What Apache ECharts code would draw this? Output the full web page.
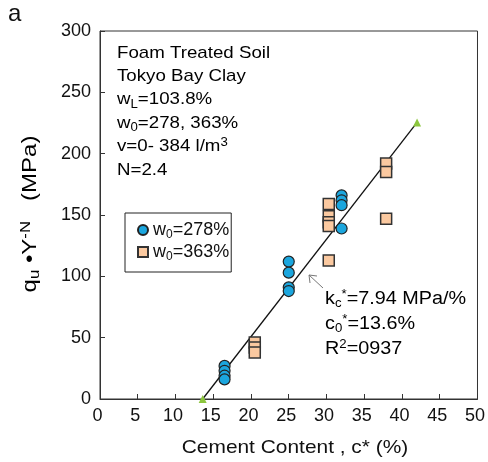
<!DOCTYPE html>
<html>
<head>
<meta charset="utf-8">
<script src="https://cdn.jsdelivr.net/npm/echarts@6/dist/echarts.min.js"></script>
<style>
  html, body { margin: 0; padding: 0; background: #fff; }
  #chart { width: 488px; height: 462px; }
</style>
</head>
<body>
<div id="chart"></div>
<script>
// Cement content c* (%) and normalised strength qu·Y^-N (MPa)
var w278Cement = [16.5, 16.5, 16.5, 16.5, 25, 25, 25, 25, 32, 32, 32, 32];
var w278Strength = [27, 23, 19, 16, 112, 103, 91, 88, 166, 162, 158, 139];

var w363Cement = [20.5, 20.5, 20.5, 30.3, 30.3, 30.3, 30.3, 30.3, 37.9, 37.9, 37.9];
var w363Strength = [46, 42, 38, 159, 149, 144, 141, 113, 192, 185, 147];

// Regression line endpoints: q = kc* (c* - c0*)
var fitCement = [13.6, 42];
var fitStrength = [0, 225.5];

var xTicks = [0, 5, 10, 15, 20, 25, 30, 35, 40, 45, 50];
var yTicks = [0, 50, 100, 150, 200, 250, 300];

function pairs(xs, ys) {
  return xs.map(function (x, i) { return [x, ys[i]]; });
}

var FONT = 'Liberation Sans, Arial, sans-serif';
var INK = '#111';
var chart = echarts.init(document.getElementById('chart'), null, { renderer: 'canvas' });

function richSet(size) {
  var small = Math.round(size * 0.68);
  return {
    a: { fontSize: size, fontFamily: FONT, color: INK },
    sub: { fontSize: small, fontFamily: FONT, color: INK, padding: [Math.round(size * 0.55), 0, 0, 0] },
    sup: { fontSize: small, fontFamily: FONT, color: INK, padding: [0, 0, Math.round(size * 0.42), 0] }
  };
}

// Info block lines (top-left of the plot)
var infoLines = [
  '{a|Foam Treated Soil}',
  '{a|Tokyo Bay Clay}',
  '{a|w}{sub|L}{a|=103.8%}',
  '{a|w}{sub|0}{a|=278, 363%}',
  '{a|v=0- 384 l/m}{sup|3}',
  '{a|N=2.4}'
];
// Regression statistics
var fitLines = [
  '{a|k}{sub|c}{sup|*}{a|=7.94 MPa/%}',
  '{a|c}{sub|0}{sup|*}{a|=13.6%}',
  '{a|R}{sup|2}{a|=0937}'
];

var graphics = [
  { type: 'text', left: 8, top: 2, style: { text: 'a', fontSize: 24, fontFamily: FONT, fill: INK } }
];
infoLines.forEach(function (t, i) {
  graphics.push({
    type: 'text', x: 117, y: 53 + i * 23.4, scaleX: 1.1,
    style: { text: t, rich: richSet(17), verticalAlign: 'middle', align: 'left' }
  });
});
fitLines.forEach(function (t, i) {
  graphics.push({
    type: 'text', x: 325, y: 299 + i * 25, scaleX: 1.1,
    style: { text: t, rich: richSet(18), verticalAlign: 'middle', align: 'left' }
  });
});
graphics.push(
  { type: 'line', shape: { x1: 323, y1: 288, x2: 309, y2: 275 }, style: { stroke: '#777', lineWidth: 1 } },
  { type: 'polyline', shape: { points: [[310, 283], [309, 275], [317, 276]] }, style: { stroke: '#777', lineWidth: 1, fill: null } },
  { type: 'text', x: 295, y: 448, scaleX: 1.1, style: {
    text: 'Cement Content , c* (%)', fontSize: 19, fontFamily: FONT, fill: INK, align: 'center', verticalAlign: 'middle'
  } },
  { type: 'text', x: 30, y: 214, rotation: Math.PI / 2, scaleX: 1.2, style: {
    text: '{a|q}{sub|u}{a| •Y}{sup|-N}{a|   (MPa)}', align: 'center', verticalAlign: 'middle',
    rich: richSet(20)
  } }
);

var option = {
  animation: false,
  backgroundColor: '#fff',
  grid: {
    left: 100, top: 31, right: 8, bottom: 63,
    show: true, borderColor: '#333', borderWidth: 1, backgroundColor: 'transparent'
  },
  xAxis: {
    type: 'value', min: xTicks[0], max: xTicks[xTicks.length - 1], interval: 5,
    axisLine: { show: true, lineStyle: { color: '#333', width: 1 } },
    axisTick: { show: true, inside: true, length: 5, lineStyle: { color: '#333' } },
    axisLabel: { color: INK, fontSize: 18, fontFamily: FONT, margin: 8, padding: [0, 5, 0, 0] },
    splitLine: { show: false }
  },
  yAxis: {
    type: 'value', min: yTicks[0], max: yTicks[yTicks.length - 1], interval: 50,
    axisLine: { show: true, lineStyle: { color: '#333', width: 1 } },
    axisTick: { show: true, inside: true, length: 5, lineStyle: { color: '#333' } },
    axisLabel: { color: INK, fontSize: 18, fontFamily: FONT, margin: 9, padding: [4, 0, 0, 0] },
    splitLine: { show: false }
  },
  legend: {
    left: 125, top: 213, orient: 'vertical',
    backgroundColor: '#fff', borderColor: '#222', borderWidth: 1,
    padding: [8, 2, 9, 12], itemGap: 2, itemWidth: 10, itemHeight: 10,
    data: [
      { name: 'w278', icon: 'circle' },
      { name: 'w363', icon: 'rect' }
    ],
    formatter: function (name) {
      return name === 'w278' ? '{a|w}{sub|0}{a|=278%}' : '{a|w}{sub|0}{a|=363%}';
    },
    textStyle: {
      fontSize: 18, fontFamily: FONT, color: INK,
      rich: richSet(18)
    }
  },
  series: [
    {
      name: 'fit', type: 'line', data: pairs(fitCement, fitStrength),
      symbol: 'triangle', symbolSize: 8, showSymbol: true,
      itemStyle: { color: '#8cc63e', borderWidth: 0 },
      lineStyle: { color: INK, width: 1.3 },
      clip: false, z: 2, silent: true
    },
    {
      name: 'w278', type: 'scatter', data: pairs(w278Cement, w278Strength),
      symbol: 'circle', symbolSize: 11,
      itemStyle: { color: '#1ba6de', borderColor: '#222', borderWidth: 1.2, opacity: 1 },
      z: 4
    },
    {
      name: 'w363', type: 'scatter', data: pairs(w363Cement, w363Strength),
      symbol: 'rect', symbolSize: 11,
      itemStyle: { color: '#fbc9a0', borderColor: '#333', borderWidth: 1.5, opacity: 1 },
      z: 3
    }
  ],
  graphic: graphics
};

chart.setOption(option);
</script>
</body>
</html>
